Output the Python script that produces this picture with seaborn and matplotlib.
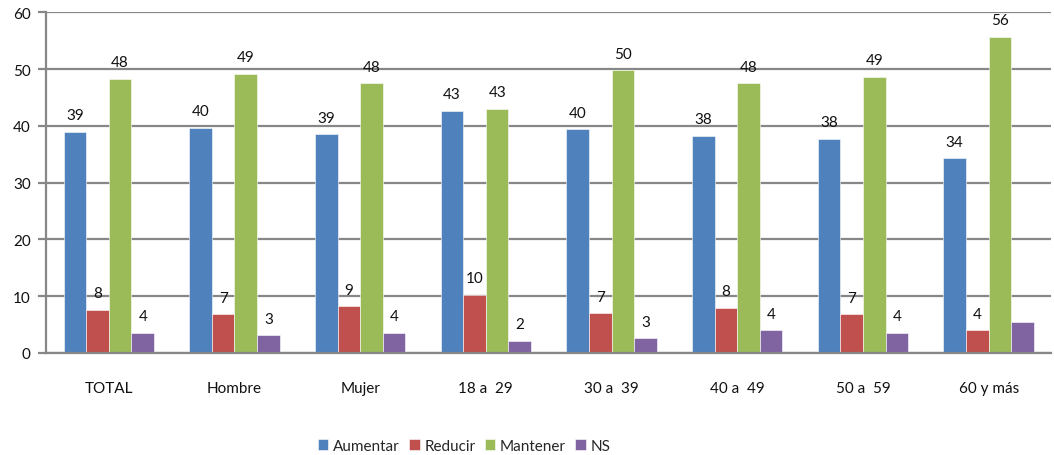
import pandas as pd
import matplotlib.pyplot as plt
import seaborn as sns

# Data
categorias = ['TOTAL', 'Hombre', 'Mujer', '18 a  29', '30 a  39', '40 a  49', '50 a  59', '60 y más']
series = ['Aumentar', 'Reducir', 'Mantener', 'NS']
aumentar = [39.0, 39.6, 38.5, 42.7, 39.4, 38.3, 37.7, 34.3]
reducir = [7.6, 6.8, 8.2, 10.2, 7.0, 7.9, 6.8, 4.0]
mantener = [48.3, 49.1, 47.5, 43.0, 49.8, 47.5, 48.6, 55.7]
ns = [3.5, 3.1, 3.5, 2.1, 2.6, 4.0, 3.5, 5.4]

# Labels shown above the bars (last NS bar has none)
etiquetas = {
    'Aumentar': ['39', '40', '39', '43', '40', '38', '38', '34'],
    'Reducir': ['8', '7', '9', '10', '7', '8', '7', '4'],
    'Mantener': ['48', '49', '48', '43', '50', '48', '49', '56'],
    'NS': ['4', '3', '4', '2', '3', '4', '4', ''],
}

colores = ['#4F81BD', '#C0504D', '#9BBB59', '#8064A2']

df = pd.DataFrame({'Aumentar': aumentar, 'Reducir': reducir,
                   'Mantener': mantener, 'NS': ns}, index=categorias)
df_long = df.reset_index(names='cat').melt(id_vars='cat', var_name='serie', value_name='valor')

sns.set_style('white')
plt.rcParams['font.family'] = ['Lato', 'DejaVu Sans']

fig = plt.figure(figsize=(10.54, 4.56), dpi=100)
ax = fig.add_axes([0.0436, 0.2237, 0.954, 0.7471])

sns.barplot(data=df_long, x='cat', y='valor', hue='serie', order=categorias,
            hue_order=series, palette=colores, width=0.72, saturation=1,
            edgecolor='white', linewidth=0.4, ax=ax, legend=True)

for cont, s in zip(ax.containers, series):
    ax.bar_label(cont, labels=etiquetas[s], padding=7, fontsize=11, color='#111111')

gris = '#878787'
ax.set_ylim(0, 60)
ax.set_xlim(-0.5, 7.5)
ax.set_yticks(range(0, 61, 10))
ax.yaxis.grid(True, color=gris, linewidth=1.6)
ax.set_axisbelow(True)
ax.set_xlabel('')
ax.set_ylabel('')

for side in ['top', 'right']:
    ax.spines[side].set_visible(False)
for side in ['left', 'bottom']:
    ax.spines[side].set_color(gris)
    ax.spines[side].set_linewidth(1.6)

ax.set_xticks(range(len(categorias)))
ax.set_xticklabels(categorias)
ax.set_xticks([i - 0.5 for i in range(len(categorias) + 1)], minor=True)
ax.tick_params(axis='x', which='major', length=0, pad=20, labelsize=11, labelcolor='#111111')
ax.tick_params(axis='x', which='minor', length=5, width=1.6, color=gris, direction='out')
ax.tick_params(axis='y', length=6, width=1.6, color=gris, pad=5, labelsize=11,
               labelcolor='#111111', left=True)

handles, labels = ax.get_legend_handles_labels()
ax.get_legend().remove()
fig.legend(handles, labels, loc='center', bbox_to_anchor=(464 / 1054, 1 - 447 / 456),
           ncol=4, frameon=False, fontsize=11, handlelength=0.7, handleheight=0.7,
           handletextpad=0.3, columnspacing=0.6)

fig.savefig('out.png', dpi=100)
